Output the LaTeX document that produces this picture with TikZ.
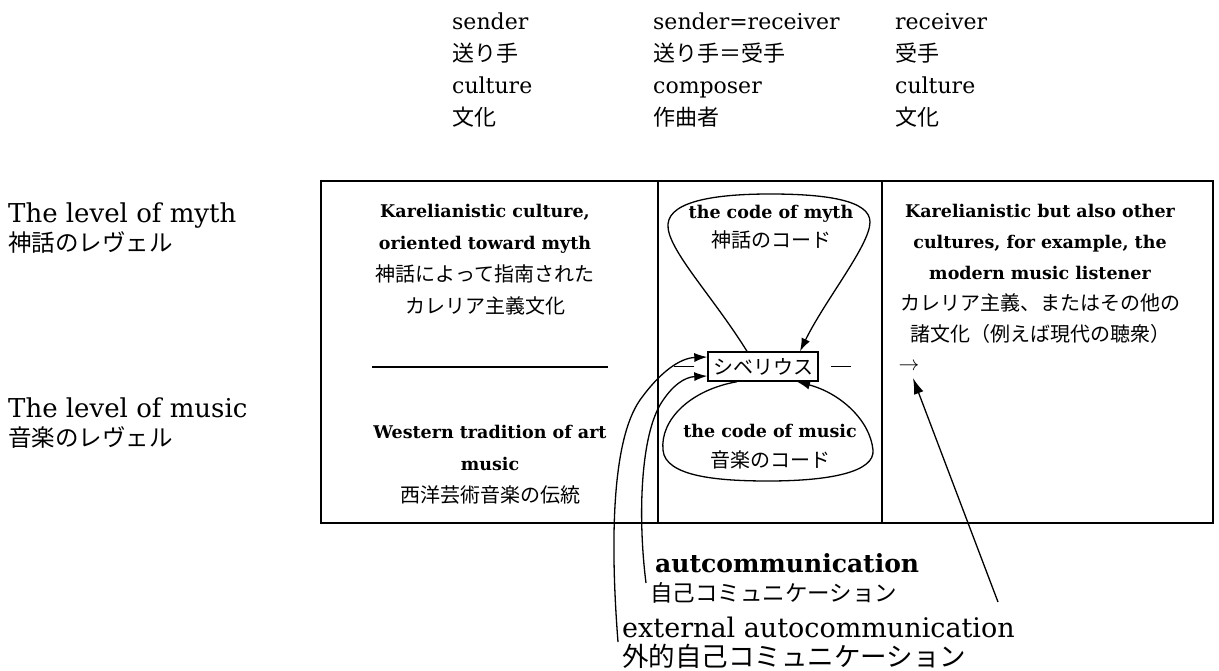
\documentclass[tikz,border=0pt]{standalone}
\usepackage{fontspec}
\setmainfont{DejaVu Serif}
\newfontfamily\jp{Noto Sans CJK JP}
\usetikzlibrary{arrows.meta}
\newcommand\fs[2]{\fontsize{#1}{#2}\selectfont}
\newcommand\J[3]{{\mdseries\jp\fontsize{#1}{#2}\selectfont #3}}
\begin{document}
\begin{tikzpicture}[x=1pt,y=-1pt,
  every node/.style={inner sep=0pt},
  hdr/.style={anchor=north west, align=left, font=\fs{22}{32}},
  lvl/.style={anchor=north west, align=left, font=\fs{26}{29}},
  cell/.style={anchor=north, align=center, font={\bfseries\fs{17.5}{32}}},
  frame/.style={line width=1.8pt},
  conn/.style={line width=1.3pt},
  tip/.style={-{Latex[length=13pt,width=9pt]}},
]
\useasboundingbox (0,0) rectangle (1219,671);

% headers
\node[hdr] (h1) at (452,13) {sender\\\J{22}{32}{送り手}\\culture\\\J{22}{32}{文化}};
\node[hdr] (h2) at (653,13) {sender=receiver\\\J{22}{32}{送り手＝受手}\\composer\\\J{22}{32}{作曲者}};
\node[hdr] (h3) at (895,13) {receiver\\\J{22}{32}{受手}\\culture\\\J{22}{32}{文化}};

% level labels
\node[lvl] (lmyth) at (8,203) {The level of myth\\\J{23.5}{29}{神話のレヴェル}};
\node[lvl] (lmusic) at (8,398) {The level of music\\\J{23.5}{29}{音楽のレヴェル}};

% table frame
\draw[frame] (321,181) rectangle (1213,523);
\draw[frame] (658,181) -- (658,523);
\draw[frame] (882,181) -- (882,523);

% left column
\node[cell] (ltop) at (485,204) {Karelianistic culture,\\oriented toward myth\\\J{20}{31}{神話によって指南された}\\\J{20}{31}{カレリア主義文化}};
\draw[line width=1.1pt] (372,367) -- (608,367);
\node[cell] (lbot) at (490,425) {Western tradition of art\\music\\\J{20}{31}{西洋芸術音楽の伝統}};

% middle column
\node[cell, font={\bfseries\fs{17.5}{29}}] (myth) at (771,205) {the code of myth\\\J{20}{29}{神話のコード}};
\node[cell, font={\bfseries\fs{17.5}{30}}] (music) at (770,424) {the code of music\\\J{20}{30}{音楽のコード}};
\node[draw, line width=1.4pt, minimum width=110pt, minimum height=29pt, font={\jp\fs{20}{24}}] (sib) at (763,366.5) {シベリウス};
\draw[line width=1pt] ([xshift=-13pt]sib.west) -- ([xshift=-33pt]sib.west);
\draw[line width=1pt] ([xshift=12pt]sib.east) -- ([xshift=32pt]sib.east);

% right column
\node[cell, font={\bfseries\fs{17.5}{31}}] (rtop) at (1040,204) {Karelianistic but also other\\cultures, for example, the\\modern music listener\\\J{20}{31}{カレリア主義、またはその他の}\\\J{20}{31}{諸文化（例えば現代の聴衆）}};
\node (rar) at (909,367) {\fs{22}{24}$\rightarrow$};

% loops
\draw[conn, tip] ([xshift=-16pt]sib.north) .. controls (712,295) and (666,248) .. (668,224)
  .. controls (670,200) and (720,194) .. (770,194)
  .. controls (825,194) and (870,200) .. (870,222)
  .. controls (870,245) and (825,300) .. ([xshift=37pt]sib.north);
\draw[conn, tip] ([xshift=-26pt]sib.south) .. controls (690,390) and (660,420) .. (663,450)
  .. controls (665,477) and (720,481) .. (768,481)
  .. controls (830,481) and (875,472) .. (873,450)
  .. controls (870,420) and (840,393) .. ([xshift=34pt]sib.south);

% bottom labels
\node[anchor=base west, font={\bfseries\fs{25}{26}}] (auto) at (655,572) {autcommunication};
\node[anchor=base west, font={\jp\fs{22.5}{26}}] (autoj) at (650,601) {自己コミュニケーション};
\node[anchor=base west, font=\fs{27}{30}] (ext) at (622,637) {external autocommunication};
\node[anchor=base west, font={\jp\fs{26.5}{30}}] (extj) at (622,666) {外的自己コミュニケーション};

% autocommunication connectors
\coordinate (a1) at (646,583);
\draw[conn, tip] (a1) .. controls (638,520) and (640,440) .. (660,405)
  .. controls (672,385) and (685,377) .. ([yshift=-9.5pt]sib.west);
\coordinate (e1) at (618,642);
\draw[conn, tip] (e1) .. controls (610,540) and (612,440) .. (640,400)
  .. controls (660,372) and (680,358) .. ([yshift=9.5pt]sib.west);

% receiver arrow
\coordinate (rb) at (998,602);
\coordinate (rt) at (913,378);
\draw[conn, -{Latex[length=16pt,width=10pt]}] (rb) -- (rt);
\end{tikzpicture}
\end{document}
